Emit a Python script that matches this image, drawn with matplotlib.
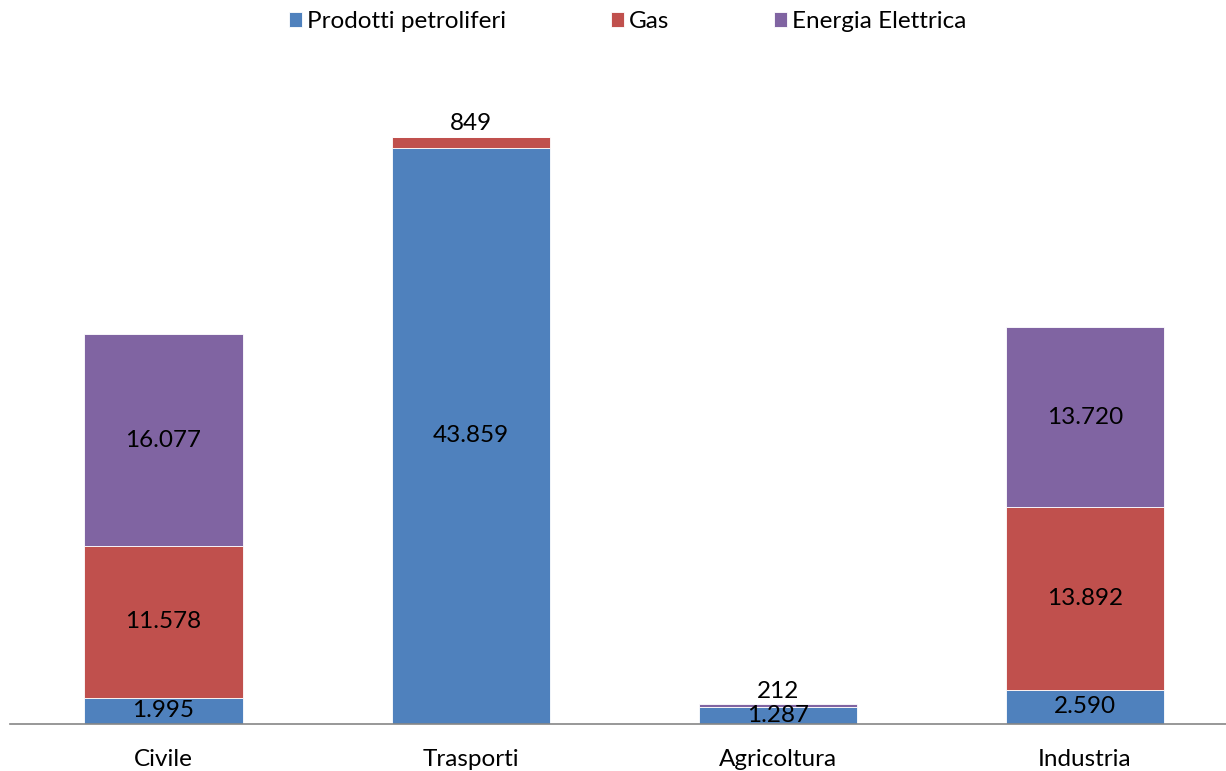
import matplotlib
matplotlib.use("Agg")
import matplotlib.pyplot as plt
import numpy as np

# Consumi finali per settore e vettore energetico
settori = ["Civile", "Trasporti", "Agricoltura", "Industria"]
prodotti_petroliferi = [1995, 43859, 1287, 2590]
gas = [11578, 849, 0, 13892]
energia_elettrica = [16077, 0, 212, 13720]

serie = [
    ("Prodotti petroliferi", prodotti_petroliferi, "#4F81BD"),
    ("Gas", gas, "#C0504D"),
    ("Energia Elettrica", energia_elettrica, "#8064A2"),
]

plt.rcParams["font.family"] = ["Lato", "DejaVu Sans"]
FS = 17.5

fig = plt.figure(figsize=(12.26, 7.71), dpi=100)
ax = fig.add_axes([10 / 1226, 47 / 771, 1 - 10 / 1226, (724 - 67) / 771])

x = np.arange(len(settori))
width = 0.515
bottom = np.zeros(len(settori))
totali = np.sum([s[1] for s in serie], axis=0)


def fmt(v):
    return f"{v:,}".replace(",", ".")


handles = []
for nome, valori, colore in serie:
    valori = np.array(valori, dtype=float)
    b = ax.bar(x, valori, width, bottom=bottom, color=colore,
               edgecolor="white", linewidth=0.6, label=nome)
    handles.append(b)
    for i, v in enumerate(valori):
        if v <= 0:
            continue
        if v < 1000:
            # thin segments: label above the stack
            ax.text(x[i], totali[i] + 200, fmt(int(v)), ha="center",
                    va="bottom", fontsize=FS, color="black")
        else:
            ax.text(x[i], bottom[i] + v / 2, fmt(int(v)), ha="center",
                    va="center", fontsize=FS, color="black")
    bottom += valori

ax.set_xlim(-0.5, 3.46)
ax.set_ylim(0, 50000)
ax.set_yticks([])
ax.set_xticks(x)
ax.set_xticklabels(settori, fontsize=FS)
ax.tick_params(axis="x", length=0, pad=18)
for s in ["top", "right", "left"]:
    ax.spines[s].set_visible(False)
ax.spines["bottom"].set_color("#868686")
ax.spines["bottom"].set_linewidth(1.2)

fig.legend(handles=handles, loc="center", bbox_to_anchor=(0.512, 0.972),
           ncol=3, frameon=False, fontsize=FS, handlelength=0.55,
           handleheight=0.55, handletextpad=0.2, columnspacing=4.3)

fig.savefig("out.png", dpi=100)
